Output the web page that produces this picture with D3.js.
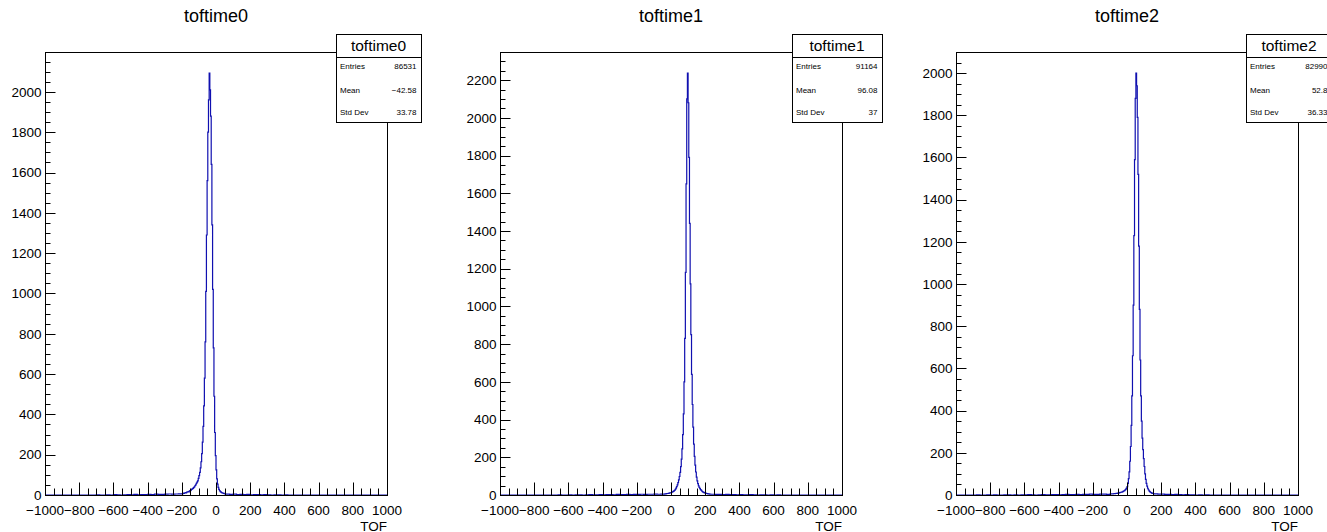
<!DOCTYPE html>
<html><head><meta charset="utf-8">
<script src="https://cdn.jsdelivr.net/npm/d3@7"></script>
<style>
body{margin:0;background:#fff}
svg{display:block}
text{font-family:"Liberation Sans",Arial,Helvetica,sans-serif;fill:#000}
</style>
</head><body>
<svg id="c" width="1327" height="532"></svg>
<script>
// ---------- data ----------
const titles = ["toftime0", "toftime1", "toftime2"];
const entries = ["86531", "91164", "82990"];
const means = ["\u221242.58", "96.08", "52.8"];
const stdDevs = ["33.78", "37", "36.33"];
const yMaxima = [2198, 2349, 2100];
const xDomain = [-1000, 1000];
const xMajorTicks = [-1000, -800, -600, -400, -200, 0, 200, 400, 600, 800, 1000];
const xAxisTitle = "TOF";

const tailBinWidth = 20;
const peakBinWidth = 4;

// toftime0
const tof0LeftStart = -720;
const tof0LeftTail = [0,1,0,0,1,0,2,1,0,1,2,1,3,1,2,2,3,2,4,3,3,4,5,4,5,6];
const tof0PeakStart = -200;
const tof0Peak = [6,7,9,8,10,12,11,14,15,17,16,20,22,24,28,30,33,37,40,46,50,58,64,70,82,96,112,135,165,205,
  262,340,442,580,760,1010,1290,1560,1800,1960,2093,2010,1880,1640,1340,1020,730,490,310,195,
  125,80,54,38,28,22,17,14,12,10,9,8,7,6,5];
const tof0RightStart = 60;
const tof0RightTail = [4,3,4,2,3,2,3,1,2,2,1,2,1,0,1,1,0,1,0];

// toftime1
const tof1LeftStart = -680;
const tof1LeftTail = [0,1,0,0,1,0,1,1,0,1,2,1,1,2,1,2,2,1,3,2,2,3,2,3,3,4,3,4,4,5,4,5];
const tof1PeakStart = -40;
const tof1Peak = [5,6,6,7,8,8,9,10,11,12,
  13,15,17,19,22,25,30,36,44,54,66,80,98,120,150,190,245,320,430,600,830,1180,1650,2100,2237,
  2080,1790,1440,1120,850,640,480,360,270,205,158,122,95,75,60,48,40,34,28,24,20,17,15,13,11,10,9,8,7,6,6,5,5,4,4];
const tof1RightStart = 240;
const tof1RightTail = [4,3,3,2,3,2,2,1,2,1,1,2,1,0,1,1,0,1,0,1,0];

// toftime2
const tof2LeftStart = -880;
const tof2LeftTail = [1,0,0,1,0,1,0,0,1,1,0,1,0,1,1,2,1,0,1,2,1,1,2,2,1,2,3,2,2,3,2,3,3,4,3,3,4,4,3];
const tof2PeakStart = -100;
const tof2Peak = [4,5,5,6,5,6,7,6,7,8,8,9,9,10,11,12,13,14,15,17,19,21,24,28,33,
  40,55,78,110,160,230,330,470,660,900,1230,1590,1880,2000,
  1940,1790,1520,1180,880,640,470,350,270,215,172,135,100,74,55,42,32,25,20,16,13,11,9,8,7,6];
const tof2RightStart = 160;
const tof2RightTail = [5,4,4,3,3,2,3,2,1,2,1,1,0,1,0,1];

const histograms = [
  [[tof0LeftStart, tailBinWidth, tof0LeftTail], [tof0PeakStart, peakBinWidth, tof0Peak], [tof0RightStart, tailBinWidth, tof0RightTail]],
  [[tof1LeftStart, tailBinWidth, tof1LeftTail], [tof1PeakStart, peakBinWidth, tof1Peak], [tof1RightStart, tailBinWidth, tof1RightTail]],
  [[tof2LeftStart, tailBinWidth, tof2LeftTail], [tof2PeakStart, peakBinWidth, tof2Peak], [tof2RightStart, tailBinWidth, tof2RightTail]]
];

// ---------- layout ----------
const frames = [{x0:45, x1:387}, {x0:500, x1:842}, {x0:956, x1:1298}];
const frameTop = 52, frameBottom = 495;
const statBoxes = [{x0:336, x1:421}, {x0:792, x1:882}, {x0:1246, x1:1332}];
const statTop = 34, statSep = 57, statBottom = 122;
const lineColor = "#1010b0";
const font = 13.5;

const svg = d3.select("#c");

function buildPoints(segs) {
  const pts = [[xDomain[0], 0]];
  let last = null;
  segs.forEach(([start, w, counts]) => {
    counts.forEach((c, i) => { pts.push([start + i * w, c]); });
    last = start + counts.length * w;
  });
  pts.push([last, 0]);
  pts.push([xDomain[1], 0]);
  return pts;
}

titles.forEach((title, p) => {
  const f = frames[p];
  const x = d3.scaleLinear().domain(xDomain).range([f.x0, f.x1]);
  const y = d3.scaleLinear().domain([0, yMaxima[p]]).range([frameBottom, frameTop]);
  const g = svg.append("g");

  // title
  g.append("text").attr("x", (f.x0 + f.x1) / 2).attr("y", 22)
    .attr("text-anchor", "middle").style("font-size", "18px").text(title);

  // histogram
  const pts = buildPoints(histograms[p]);
  const line = d3.line().x(d => x(d[0])).y(d => y(d[1])).curve(d3.curveStepAfter);
  g.append("path").attr("d", line(pts)).attr("fill", "none")
    .attr("stroke", lineColor).attr("stroke-width", 1.2);

  // frame
  g.append("rect").attr("x", f.x0 + 0.5).attr("y", frameTop + 0.5)
    .attr("width", f.x1 - f.x0).attr("height", frameBottom - frameTop)
    .attr("fill", "none").attr("stroke", "#000").attr("stroke-width", 1);

  // x ticks
  const xMinor = d3.range(xDomain[0], xDomain[1] + 1, 50);
  xMinor.forEach(v => {
    const major = xMajorTicks.includes(v);
    const px = Math.round(x(v)) + 0.5;
    g.append("line").attr("x1", px).attr("x2", px)
      .attr("y1", frameBottom + 0.5).attr("y2", frameBottom + 0.5 - (major ? 13 : 7))
      .attr("stroke", "#000").attr("stroke-width", 1);
  });
  xMajorTicks.forEach(v => {
    g.append("text").attr("x", x(v)).attr("y", 514.5).attr("text-anchor", "middle")
      .style("font-size", font + "px").text(d3.format("")(v));
  });
  g.append("text").attr("x", f.x1).attr("y", 530.5).attr("text-anchor", "end")
    .style("font-size", font + "px").text(xAxisTitle);

  // y ticks
  const yMinor = d3.range(0, yMaxima[p] + 1, 50);
  yMinor.forEach(v => {
    const major = v % 200 === 0;
    const py = Math.round(y(v)) + 0.5;
    g.append("line").attr("x1", f.x0 + 0.5).attr("x2", f.x0 + 0.5 + (major ? 10 : 5))
      .attr("y1", py).attr("y2", py).attr("stroke", "#000").attr("stroke-width", 1);
    if (major) {
      g.append("text").attr("x", f.x0 - 3.5).attr("y", y(v) + 4.8).attr("text-anchor", "end")
        .style("font-size", font + "px").text(v);
    }
  });

  // stats box
  const b = statBoxes[p];
  g.append("rect").attr("x", b.x0 + 0.5).attr("y", statTop + 0.5)
    .attr("width", b.x1 - b.x0).attr("height", statBottom - statTop)
    .attr("fill", "#fff").attr("stroke", "#000").attr("stroke-width", 1);
  g.append("line").attr("x1", b.x0 + 0.5).attr("x2", b.x1 + 0.5)
    .attr("y1", statSep + 0.5).attr("y2", statSep + 0.5).attr("stroke", "#000");
  g.append("text").attr("x", (b.x0 + b.x1) / 2).attr("y", 50.5).attr("text-anchor", "middle")
    .style("font-size", "15.5px").text(title);
  const rows = [["Entries", entries[p]], ["Mean", means[p]], ["Std Dev", stdDevs[p]]];
  const rowY = [69, 93, 115];
  rows.forEach((r, i) => {
    g.append("text").attr("x", b.x0 + 4).attr("y", rowY[i]).style("font-size", "8px").text(r[0]);
    g.append("text").attr("x", b.x1 - 4.5).attr("y", rowY[i]).attr("text-anchor", "end")
      .style("font-size", "8px").text(r[1]);
  });
});
</script>
</body></html>
